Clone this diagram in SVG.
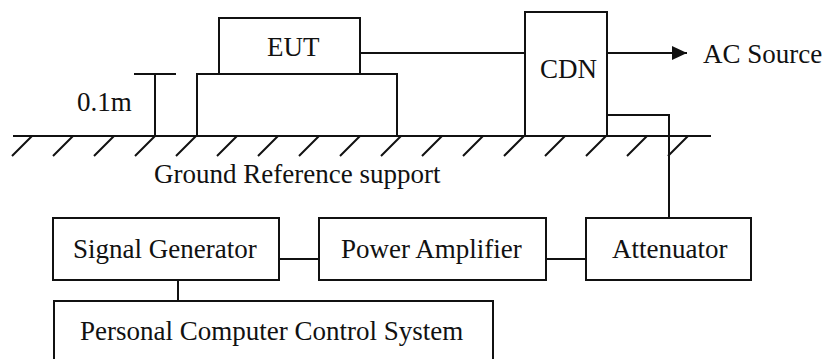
<svg xmlns="http://www.w3.org/2000/svg" width="824" height="359" viewBox="0 0 824 359">
<style>
.b{fill:#fff;stroke:#111;stroke-width:2}
.l{fill:none;stroke:#111;stroke-width:2}
.t{font-family:"Liberation Serif","Times New Roman",serif;font-size:27px;fill:#111}
</style>
<defs>
<marker id="arr" viewBox="0 0 15 14" refX="15" refY="7" markerWidth="15" markerHeight="14" markerUnits="userSpaceOnUse" orient="auto">
<path d="M0,0 L15,7 L0,14 Z" fill="#111"/>
</marker>
</defs>
<rect width="824" height="359" fill="#fff"/>
<g id="ground">
<line class="l" x1="13" y1="136" x2="711" y2="136"/>
<path class="l" d="M32,136 l-20,20 M73,136 l-20,20 M114,136 l-20,20 M155,136 l-20,20 M196,136 l-20,20 M237,136 l-20,20 M278,136 l-20,20 M319,136 l-20,20 M360,136 l-20,20 M401,136 l-20,20 M442,136 l-20,20 M483,136 l-20,20 M524,136 l-20,20 M565,136 l-20,20 M606,136 l-20,20 M647,136 l-20,20 M688,136 l-20,20"/>
<text class="t" x="154" y="183">Ground Reference support</text>
</g>
<g id="height">
<path class="l" d="M134,74 H176 M155,74 V136"/>
<text class="t" x="77" y="111">0.1m</text>
</g>
<g id="table"><rect class="b" x="197" y="74" width="200" height="62"/></g>
<g id="eut"><rect class="b" x="219" y="18" width="141" height="56"/><text class="t" x="267" y="56">EUT</text></g>
<g id="cdn"><rect class="b" x="525" y="12" width="82" height="124"/><text class="t" x="540" y="78">CDN</text></g>
<g id="ac"><text class="t" x="703" y="63">AC Source</text></g>
<g id="sg"><rect class="b" x="53" y="218" width="226" height="62"/><text class="t" x="73" y="258">Signal Generator</text></g>
<g id="pa"><rect class="b" x="319" y="218" width="227" height="62"/><text class="t" x="341" y="258">Power Amplifier</text></g>
<g id="att"><rect class="b" x="586" y="218" width="165" height="62"/><text class="t" x="612" y="258">Attenuator</text></g>
<g id="pc"><rect class="b" x="54" y="301" width="439" height="80"/><text class="t" x="80" y="340">Personal Computer Control System</text></g>
<g id="connectors">
<line class="l" x1="360" y1="53" x2="525" y2="53"/>
<line class="l" x1="607" y1="53" x2="687" y2="53" marker-end="url(#arr)"/>
<path class="l" d="M607,115 H669 V218"/>
<line class="l" x1="279" y1="259" x2="319" y2="259"/>
<line class="l" x1="546" y1="259" x2="586" y2="259"/>
<line class="l" x1="178" y1="280" x2="178" y2="301"/>
</g>
</svg>
